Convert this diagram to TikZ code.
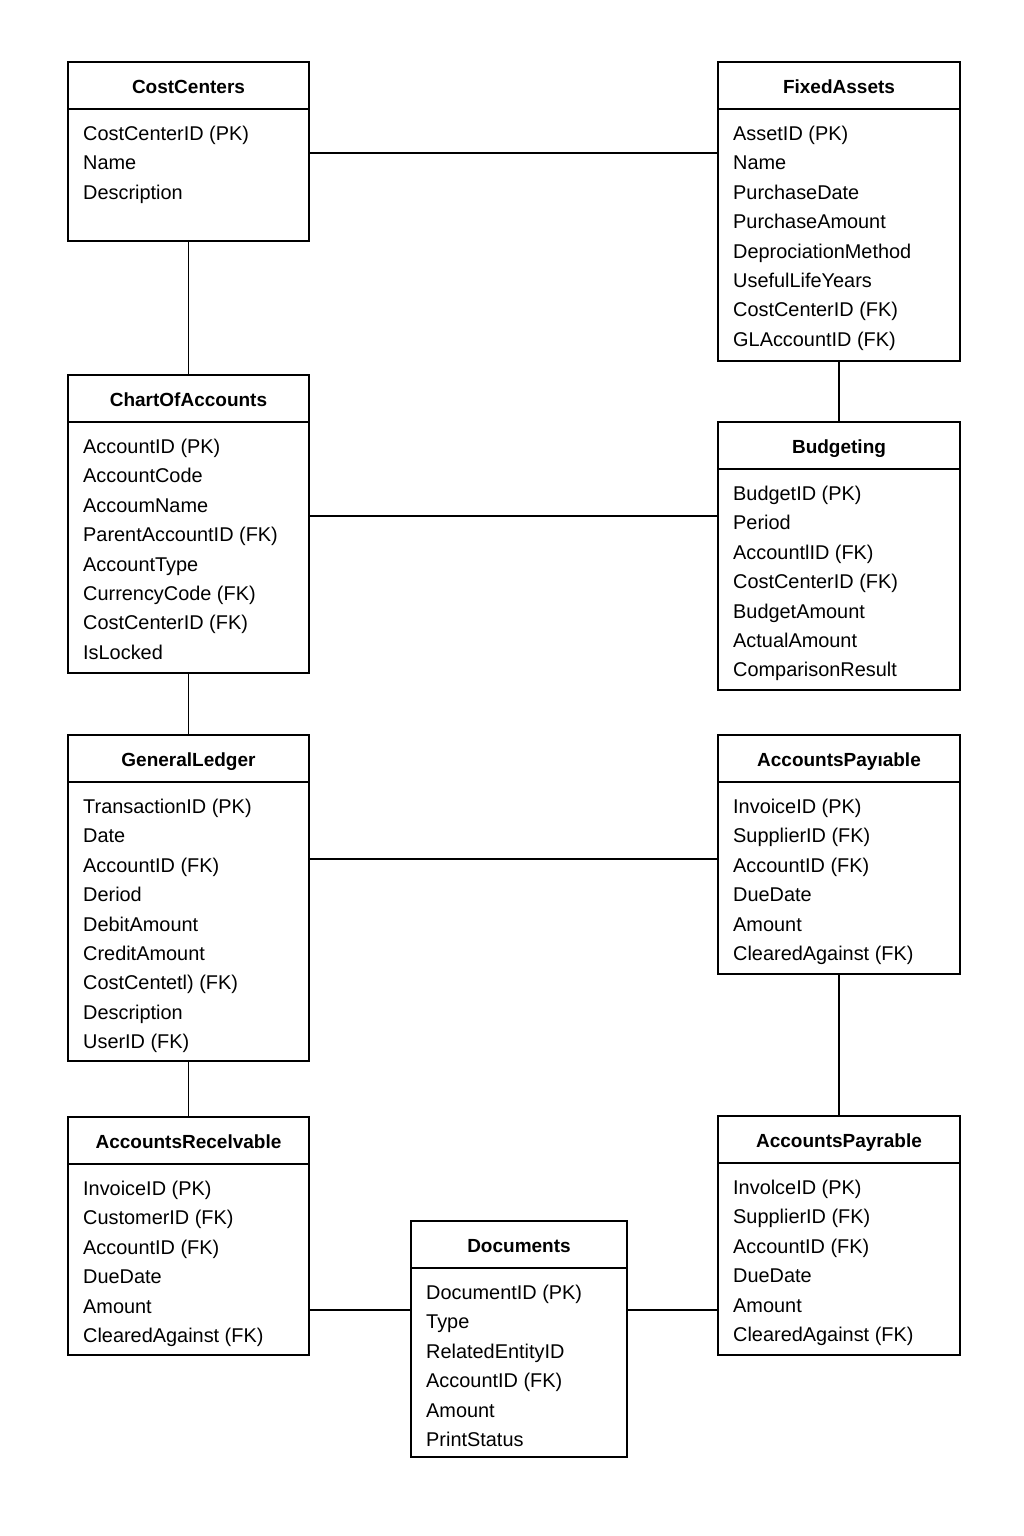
\documentclass[tikz,border=0pt]{standalone}
\usepackage{fontspec}
\setmainfont{Liberation Sans}
\tikzset{
  ebox/.style={draw=black, line width=1.4pt, inner sep=0pt, fill=white},
  hline/.style={draw=black, line width=1.3pt},
  etitle/.style={anchor=base, inner sep=0pt, font=\fontsize{19}{22}\selectfont\bfseries},
  erow/.style={anchor=base west, inner sep=0pt, font=\fontsize{19.9}{22}\selectfont},
  conn/.style={draw=black, line width=1.4pt}
}
\newcommand\erdentity[7]{%
  \node[ebox, minimum width={(#4-#2)*1pt}, minimum height={(#5-#3)*1pt}] (#1) at ({(#2+#4)/2},{(#3+#5)/2}) {};
  \draw[hline] (#2,#3+47) -- (#4,#3+47);
  \node[etitle] at ({(#2+#4)/2},#3+31.5) {#6};
  \foreach \r [count=\i from 0] in {#7} \node[erow] at (#2+15,#3+78.5+29.4*\i) {\r};
}
\begin{document}
\begin{tikzpicture}[x=1pt,y=-1pt]
\useasboundingbox[fill=white] (0,0) rectangle (1024,1536);
\erdentity{cc}{68}{62}{309}{241}{CostCenters}{CostCenterID (PK),Name,Description}
\erdentity{fa}{718}{62}{960}{361}{FixedAssets}{AssetID (PK),Name,PurchaseDate,PurchaseAmount,DeprociationMethod,UsefulLifeYears,CostCenterID (FK),GLAccountID (FK)}
\erdentity{coa}{68}{375}{309}{673}{ChartOfAccounts}{AccountID (PK),AccountCode,AccoumName,ParentAccountID (FK),AccountType,CurrencyCode (FK),CostCenterID (FK),IsLocked}
\erdentity{bud}{718}{422}{960}{690}{Budgeting}{BudgetID (PK),Period,AccountlID (FK),CostCenterID (FK),BudgetAmount,ActualAmount,ComparisonResult}
\erdentity{gl}{68}{735}{309}{1061}{GeneralLedger}{TransactionID (PK),Date,AccountID (FK),Deriod,DebitAmount,CreditAmount,CostCentetl) (FK),Description,UserID (FK)}
\erdentity{ap}{718}{735}{960}{974}{AccountsPayıable}{InvoiceID (PK),SupplierID (FK),AccountID (FK),DueDate,Amount,ClearedAgainst (FK)}
\erdentity{ar}{68}{1117}{309}{1355}{AccountsRecelvable}{InvoiceID (PK),CustomerID (FK),AccountID (FK),DueDate,Amount,ClearedAgainst (FK)}
\erdentity{aptwo}{718}{1116}{960}{1355}{AccountsPayrable}{InvolceID (PK),SupplierID (FK),AccountID (FK),DueDate,Amount,ClearedAgainst (FK)}
\erdentity{doc}{411}{1221}{627}{1457}{Documents}{DocumentID (PK),Type,RelatedEntityID,AccountID (FK),Amount,PrintStatus}
% connectors
\draw[conn] (cc.east |- 0,153) -- (fa.west |- 0,153);
\draw[conn] (cc.south) -- (coa.north);
\draw[conn] (fa.south) -- (bud.north);
\draw[conn] (coa.east |- 0,516) -- (bud.west |- 0,516);
\draw[conn] (coa.south) -- (gl.north);
\draw[conn] (gl.east |- 0,859) -- (ap.west |- 0,859);
\draw[conn] (gl.south) -- (ar.north);
\draw[conn] (ap.south) -- (aptwo.north);
\draw[conn] (ar.east |- 0,1310) -- (doc.west |- 0,1310);
\draw[conn] (doc.east |- 0,1310) -- (aptwo.west |- 0,1310);
\end{tikzpicture}
\end{document}
